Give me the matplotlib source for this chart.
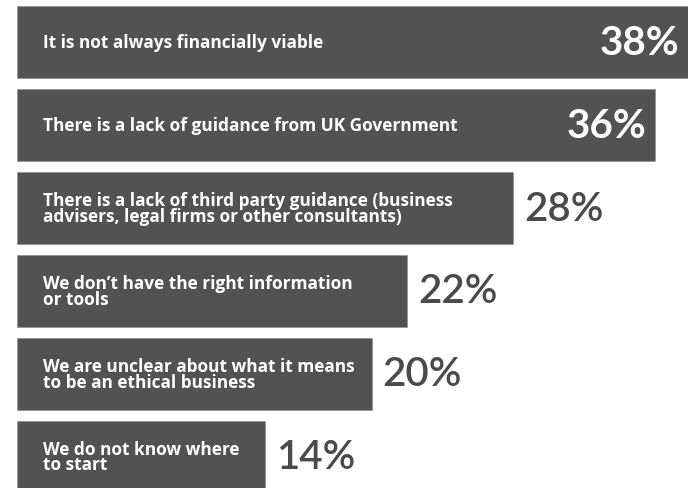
import matplotlib
matplotlib.use('Agg')
import matplotlib.pyplot as plt

# Barriers to running an ethical business, share of respondents (%)
reasons = [
    'It is not always financially viable',
    'There is a lack of guidance from UK Government',
    'There is a lack of third party guidance (business\nadvisers, legal firms or other consultants)',
    'We don\u2019t have the right information\nor tools',
    'We are unclear about what it means\nto be an ethical business',
    'We do not know where\nto start',
]
shares = [38, 36, 28, 22, 20, 14]
pct_labels = ['38%', '36%', '28%', '22%', '20%', '14%']

bar_color = '#535252'
label_grey = '#4a4a4a'
inside_cutoff = 30  # labels for long bars sit inside the bar

plt.rcParams['font.family'] = ['Lato', 'DejaVu Sans']

fig = plt.figure(figsize=(6.88, 4.89), dpi=100)
ax = fig.add_axes([17 / 688, 0, 671 / 688, 1])

pos = list(range(len(shares)))
ax.barh(pos, shares, height=0.87, color=bar_color, edgecolor='#8a8a8a', linewidth=0.4)

x_max = 37.85
ax.set_xlim(0, x_max)
ax.set_ylim(5.38, -0.525)
ax.axis('off')

for i in pos:
    ax.annotate(reasons[i], xy=(0, i), xytext=(26, 0), textcoords='offset pixels',
                ha='left', va='center', color='white', fontsize=12.4,
                fontweight='bold', family=['Open Sans', 'DejaVu Sans'],
                linespacing=0.85)
    if shares[i] >= inside_cutoff:
        ax.annotate(pct_labels[i], xy=(min(shares[i], x_max), i), xytext=(-9, 0),
                    textcoords='offset pixels', ha='right', va='center',
                    color='white', fontsize=29, fontweight='bold')
    else:
        ax.annotate(pct_labels[i], xy=(shares[i], i), xytext=(11, 0),
                    textcoords='offset pixels', ha='left', va='center',
                    color=label_grey, fontsize=29, fontweight='semibold')

fig.savefig('out.png', dpi=100, facecolor='white')
